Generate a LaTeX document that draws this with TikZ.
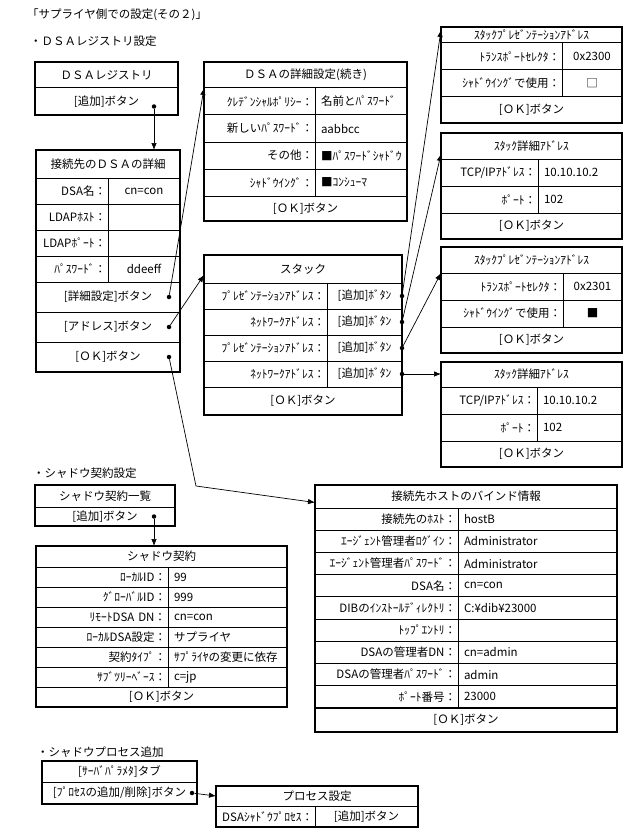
\documentclass[tikz,border=0pt]{standalone}
\usepackage{fontspec}
\setmainfont{Noto Sans CJK JP}
\usepackage{tikz}
\usetikzlibrary{arrows.meta}
\usetikzlibrary{fit}

\begin{document}
\begin{tikzpicture}[x=1pt,y=-1pt,>={Latex[length=7pt,width=5.5pt]},
  font=\fontsize{11.5}{13}\selectfont,
  cell/.style={draw,line width=1pt,anchor=north west,inner xsep=2pt,inner ysep=0pt,outer sep=0pt},
  lab/.style={cell,align=right},
  val/.style={cell,align=left,inner xsep=6pt},
  mid/.style={cell,align=center},
  frame/.style={draw,line width=1.8pt,inner sep=0pt,fit=#1},
  dot/.style={circle,fill,inner sep=0pt,minimum size=4.5pt},
  link/.style={->,line width=0.7pt},
  title/.style={anchor=west,inner sep=0pt}]

\useasboundingbox (0,0) rectangle (630,840);

\node[title] (ttl) at (27,15) {「サプライヤ側での設定(その２)」};
\node[title] (sec1) at (30,41) {・ＤＳＡレジストリ設定};
\node[title] (sec2) at (33,473) {・シャドウ契約設定};
\node[title] (sec3) at (37,752) {・シャドウプロセス追加};

% DSA registry
\node[mid,text width=139pt,minimum height=26pt] (reg0) at (35,62) {ＤＳＡレジストリ};
\node[mid,text width=139pt,minimum height=27pt] (reg1) at (35,88) {[追加]ボタン};
\node[frame={(reg0)(reg1)}] (reg) {};
\node[dot] (regdot) at ([xshift=-24pt,yshift=-5pt]reg1.east) {};

\node[mid,text width=140pt,minimum height=28pt] (dsa0) at (36,150) {接続先のＤＳＡの詳細};
\foreach \l/\v [count=\i] in {DSA名：/cn=con,LDAPﾎｽﾄ：/{},LDAPﾎﾟｰﾄ：/{},ﾊﾟｽﾜｰﾄﾞ：/ddeeff}{
  \pgfmathsetmacro\y{152+\i*26}
  \node[lab,text width=68pt,minimum height=26pt] (dsal\i) at (36,\y) {\l};
  \node[mid,text width=68pt,minimum height=26pt] (dsav\i) at (108,\y) {\v};
}
\foreach \b [count=\i from 5] in {{[詳細設定]ボタン},{[アドレス]ボタン},{[ＯＫ]ボタン}}{
  \pgfmathsetmacro\y{282+(\i-5)*30}
  \node[mid,text width=140pt,minimum height=30pt] (dsa\i) at (36,\y) {\b};
  \node[dot] (dsad\i) at ([xshift=-11pt]dsa\i.east) {};
}
\node[frame={(dsa0)(dsa7)}] (dsa) {};

\node[mid,text width=199pt,minimum height=26pt] (opt0) at (204,62) {ＤＳＡの詳細設定(続き)};
\foreach \l/\v [count=\i] in {ｸﾚﾃﾞﾝｼｬﾙﾎﾟﾘｼｰ：/名前とﾊﾟｽﾜｰﾄﾞ,新しいﾊﾟｽﾜｰﾄﾞ：/aabbcc,その他：/■ﾊﾟｽﾜｰﾄﾞｼｬﾄﾞｳ,ｼｬﾄﾞｳｲﾝｸﾞ：/■ｺﾝｼｭｰﾏ}{
  \pgfmathsetmacro\y{61+\i*27}
  \node[lab,text width=107pt,minimum height=27pt] (optl\i) at (204,\y) {\l};
  \node[val,text width=80pt,minimum height=27pt] (optv\i) at (315,\y) {\v};
}
\node[mid,text width=199pt,minimum height=25pt] (opt5) at (204,196) {[ＯＫ]ボタン};
\node[frame={(opt0)(opt5)}] (opt) {};

% stack
\node[mid,text width=194pt,minimum height=28pt] (stk0) at (204,255) {スタック};
\foreach \l [count=\i] in {ﾌﾟﾚｾﾞﾝﾃｰｼｮﾝｱﾄﾞﾚｽ：,ﾈｯﾄﾜｰｸｱﾄﾞﾚｽ：,ﾌﾟﾚｾﾞﾝﾃｰｼｮﾝｱﾄﾞﾚｽ：,ﾈｯﾄﾜｰｸｱﾄﾞﾚｽ：}{
  \pgfmathsetmacro\y{257+\i*26}
  \node[lab,text width=119pt,minimum height=26pt] (stkl\i) at (204,\y) {\l};
  \node[mid,text width=71pt,minimum height=26pt] (stkv\i) at (327,\y) {[追加]ﾎﾞﾀﾝ};
  \node[dot] (stkd\i) at (stkv\i.east) {};
}
\node[mid,text width=194pt,minimum height=28pt] (stk5) at (204,387) {[ＯＫ]ボタン};
\node[frame={(stk0)(stk5)}] (stk) {};

\foreach \n/\t/\h/\d/\va/\vb in {pa1/27/16/562/0x2300/□,pa2/247/26/563/0x2301/■}{
  \pgfmathsetmacro\ya{\t+\h}
  \pgfmathsetmacro\yb{\ya+27}
  \pgfmathsetmacro\yc{\yb+27}
  \pgfmathsetmacro\wl{\d-441-4}
  \pgfmathsetmacro\wv{622-\d-4}
  \node[mid,text width=177pt,minimum height=\h pt] (\n-h) at (441,\t) {ｽﾀｯｸﾌﾟﾚｾﾞﾝﾃｰｼｮﾝｱﾄﾞﾚｽ};
  \node[lab,text width=\wl pt,minimum height=27pt] (\n-1) at (441,\ya) {ﾄﾗﾝｽﾎﾟｰﾄｾﾚｸﾀ：};
  \node[mid,text width=\wv pt,minimum height=27pt] (\n-1v) at (\d,\ya) {\va};
  \node[lab,text width=\wl pt,minimum height=27pt] (\n-2) at (441,\yb) {ｼｬﾄﾞｳｲﾝｸﾞで使用：};
  \node[mid,text width=\wv pt,minimum height=27pt] (\n-2v) at (\d,\yb) {\vb};
  \node[mid,text width=177pt,minimum height=26pt] (\n-ok) at (441,\yc) {[ＯＫ]ボタン};
  \node[frame={(\n-h)(\n-ok)}] (\n) {};
}

\foreach \n/\t/\h/\d in {na1/133/26/538,na2/362/25/537}{
  \pgfmathsetmacro\ya{\t+\h}
  \pgfmathsetmacro\yb{\ya+27}
  \pgfmathsetmacro\yc{\yb+27}
  \pgfmathsetmacro\wl{\d-441-4}
  \pgfmathsetmacro\wv{622-\d-12}
  \node[mid,text width=177pt,minimum height=\h pt] (\n-h) at (441,\t) {ｽﾀｯｸ詳細ｱﾄﾞﾚｽ};
  \node[lab,text width=\wl pt,minimum height=27pt] (\n-1) at (441,\ya) {TCP/IPｱﾄﾞﾚｽ：};
  \node[val,text width=\wv pt,minimum height=27pt] (\n-1v) at (\d,\ya) {10.10.10.2};
  \node[lab,text width=\wl pt,minimum height=27pt] (\n-2) at (441,\yb) {ﾎﾟｰﾄ：};
  \node[val,text width=\wv pt,minimum height=27pt] (\n-2v) at (\d,\yb) {102};
  \node[mid,text width=177pt,minimum height=26pt] (\n-ok) at (441,\yc) {[ＯＫ]ボタン};
  \node[frame={(\n-h)(\n-ok)}] (\n) {};
}

% shadow agreement
\node[mid,text width=136pt,minimum height=22pt] (shl0) at (35,485) {シャドウ契約一覧};
\node[mid,text width=136pt,minimum height=19pt] (shl1) at (35,507) {[追加]ボタン};
\node[frame={(shl0)(shl1)}] (shl) {};
\node[dot] (shldot) at ([xshift=-21pt]shl1.east) {};

\node[mid,text width=247pt,minimum height=21pt] (shc0) at (36,546) {シャドウ契約};
\foreach \l/\v [count=\i] in {ﾛｰｶﾙID：/99,ｸﾞﾛｰﾊﾞﾙID：/999,ﾘﾓｰﾄDSA DN：/cn=con,ﾛｰｶﾙDSA設定：/サプライヤ,契約ﾀｲﾌﾟ：/ｻﾌﾟﾗｲﾔの変更に依存,ｻﾌﾞﾂﾘｰﾍﾞｰｽ：/c=jp}{
  \pgfmathsetmacro\y{547+\i*20}
  \node[lab,text width=128pt,minimum height=20pt] (shcl\i) at (36,\y) {\l};
  \node[val,text width=107pt,minimum height=20pt] (shcv\i) at (168,\y) {\v};
}
\node[mid,text width=247pt,minimum height=20pt] (shc7) at (36,687) {[ＯＫ]ボタン};
\node[frame={(shc0)(shc7)}] (shc) {};

\node[mid,text width=298pt,minimum height=23pt] (bind0) at (315,485) {接続先ホストのバインド情報};
\foreach \l/\v [count=\i] in {接続先のﾎｽﾄ：/hostB,ｴｰｼﾞｪﾝﾄ管理者ﾛｸﾞｲﾝ：/Administrator,ｴｰｼﾞｪﾝﾄ管理者ﾊﾟｽﾜｰﾄﾞ：/Administrator,DSA名：/cn=con,DIBのｲﾝｽﾄｰﾙﾃﾞｨﾚｸﾄﾘ：/C:¥dib¥23000,ﾄｯﾌﾟｴﾝﾄﾘ：/{},DSAの管理者DN：/cn=admin,DSAの管理者ﾊﾟｽﾜｰﾄﾞ：/admin,ﾎﾟｰﾄ番号：/23000}{
  \pgfmathsetmacro\y{485.8+\i*22.2}
  \node[lab,text width=139pt,minimum height=22.2pt] (bindl\i) at (315,\y) {\l};
  \node[val,text width=147pt,minimum height=22.2pt] (bindv\i) at (458,\y) {\v};
}
\node[mid,text width=298pt,minimum height=24pt] (bind10) at (315,708) {[ＯＫ]ボタン};
\node[frame={(bind0)(bind10)}] (bind) {};

% shadow process
\node[mid,text width=151pt,minimum height=21pt] (tab0) at (42,761) {[ｻｰﾊﾞﾊﾟﾗﾒﾀ]タブ};
\node[mid,text width=151pt,minimum height=22pt] (tab1) at (42,782) {[ﾌﾟﾛｾｽの追加/削除]ボタン};
\node[frame={(tab0)(tab1)}] (tab) {};
\node[dot] (tabdot) at ([xshift=-5pt]tab1.east) {};

\node[mid,text width=198pt,minimum height=20pt] (proc0) at (216,786) {プロセス設定};
\node[lab,text width=95pt,minimum height=21pt] (procl1) at (216,806) {DSAｼｬﾄﾞｳﾌﾟﾛｾｽ：};
\node[mid,text width=99pt,minimum height=21pt] (procv1) at (315,806) {[追加]ボタン};
\node[frame={(proc0)(procv1)}] (proc) {};

\coordinate (bend) at (196,486);

\draw[link] (regdot) -- (regdot |- dsa0.north);
\draw[link] (dsad5) -- (opt0.south west);
\draw[link] (dsad6) -- ([yshift=-6pt]stk0.west);
\draw[link] (dsad7) -- (bend) -- ([yshift=-6pt]bind0.west);
\draw[link] (stkd1) -- ([yshift=-3pt]pa1-h.north west);
\draw[link] (stkd2) -- ([yshift=5pt]na1-h.south west);
\draw[link] (stkd3) -- (pa2-h.south west);
\draw[link] (stkd4) -- (stkd4 -| na2-h.west);
\draw[link] (shldot) -- (shldot |- shc0.north);
\draw[link] (tabdot) -- (proc0.west);

\end{tikzpicture}
\end{document}
